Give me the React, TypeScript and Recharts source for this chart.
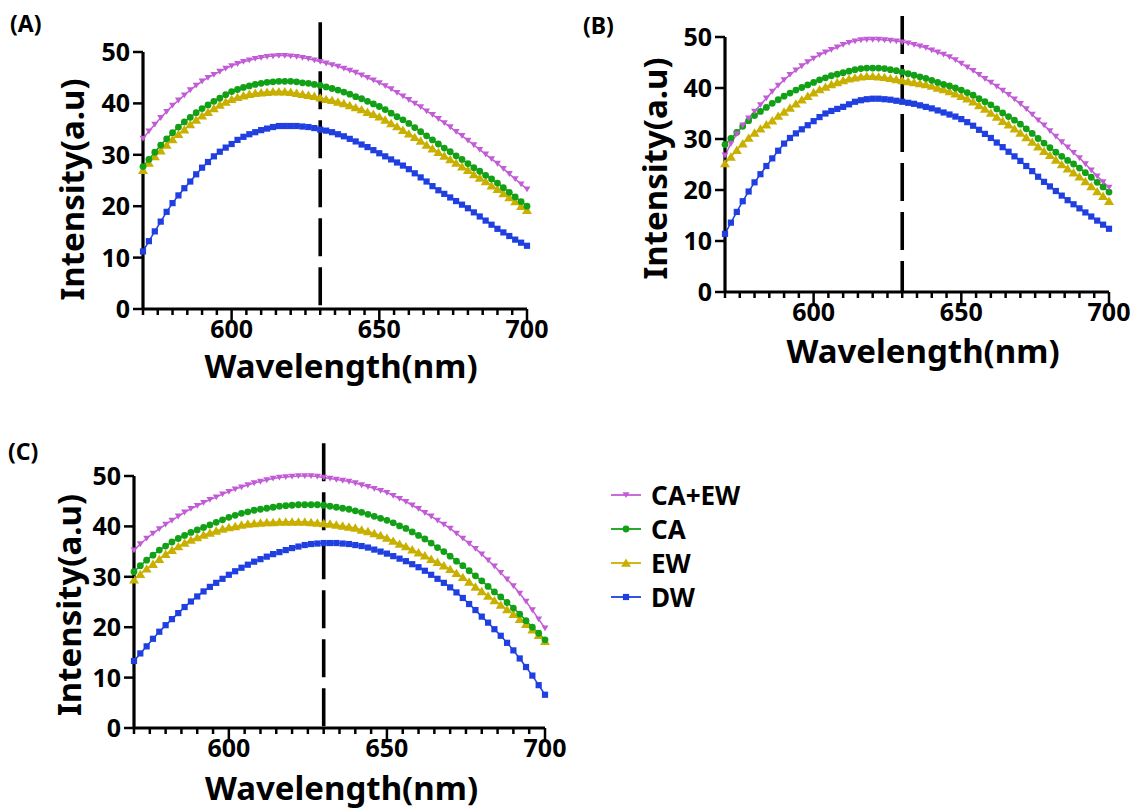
import { Legend, Line, LineChart, ReferenceLine, XAxis, YAxis } from 'recharts'

// wavelength grid (nm)
const wavelengths = [
  570, 572, 574, 576, 578, 580, 582, 584, 586, 588,
  590, 592, 594, 596, 598, 600, 602, 604, 606, 608,
  610, 612, 614, 616, 618, 620, 622, 624, 626, 628,
  630, 632, 634, 636, 638, 640, 642, 644, 646, 648,
  650, 652, 654, 656, 658, 660, 662, 664, 666, 668,
  670, 672, 674, 676, 678, 680, 682, 684, 686, 688,
  690, 692, 694, 696, 698, 700,
]

// panel (A)
const aCaEw = [
  33.2, 34.6, 35.9, 37.2, 38.4, 39.6, 40.6, 41.6, 42.6, 43.5,
  44.3, 45.0, 45.6, 46.2, 46.8, 47.3, 47.7, 48.1, 48.4, 48.7,
  48.9, 49.1, 49.2, 49.3, 49.3, 49.2, 49.1, 48.9, 48.7, 48.4,
  48.1, 47.8, 47.5, 47.2, 46.8, 46.4, 46.0, 45.5, 45.0, 44.5,
  44.0, 43.4, 42.8, 42.1, 41.4, 40.7, 40.0, 39.3, 38.5, 37.8,
  37.0, 36.2, 35.4, 34.5, 33.7, 32.8, 31.9, 31.0, 30.1, 29.2,
  28.3, 27.3, 26.3, 25.3, 24.3, 23.3,
]
const aCa = [
  27.7, 29.1, 30.5, 31.9, 33.1, 34.3, 35.4, 36.4, 37.3, 38.2,
  39.0, 39.7, 40.4, 41.0, 41.7, 42.3, 42.7, 43.1, 43.4, 43.7,
  43.9, 44.1, 44.2, 44.3, 44.3, 44.3, 44.2, 44.0, 43.9, 43.7,
  43.5, 43.2, 42.9, 42.6, 42.2, 41.8, 41.3, 40.9, 40.4, 39.9,
  39.4, 38.8, 38.1, 37.4, 36.8, 36.1, 35.3, 34.5, 33.7, 32.9,
  32.1, 31.3, 30.6, 29.8, 29.1, 28.3, 27.5, 26.8, 26.0, 25.3,
  24.5, 23.6, 22.7, 21.8, 20.9, 20.0,
]
const aEw = [
  27.0, 28.4, 29.7, 30.8, 31.9, 33.0, 34.0, 34.9, 35.9, 36.8,
  37.6, 38.3, 39.0, 39.7, 40.3, 40.8, 41.2, 41.5, 41.8, 42.0,
  42.1, 42.2, 42.3, 42.3, 42.3, 42.2, 42.0, 41.8, 41.6, 41.4,
  41.1, 40.8, 40.6, 40.3, 40.0, 39.6, 39.2, 38.8, 38.3, 37.9,
  37.4, 36.8, 36.1, 35.5, 34.8, 34.1, 33.4, 32.7, 31.9, 31.2,
  30.5, 29.8, 29.1, 28.4, 27.7, 27.0, 26.2, 25.5, 24.8, 24.0,
  23.3, 22.5, 21.7, 20.9, 20.0, 19.2,
]
const aDw = [
  11.2, 13.2, 15.1, 17.0, 18.9, 20.6, 22.1, 23.5, 24.8, 26.2,
  27.5, 28.6, 29.7, 30.6, 31.4, 32.1, 32.9, 33.5, 34.0, 34.4,
  34.8, 35.1, 35.4, 35.6, 35.6, 35.6, 35.6, 35.5, 35.4, 35.2,
  34.9, 34.7, 34.4, 34.0, 33.6, 33.1, 32.6, 32.0, 31.5, 30.9,
  30.3, 29.7, 29.1, 28.5, 27.9, 27.2, 26.4, 25.6, 24.8, 23.9,
  23.1, 22.4, 21.7, 21.0, 20.3, 19.6, 18.8, 18.0, 17.2, 16.4,
  15.6, 14.9, 14.2, 13.5, 12.9, 12.3,
]

// panel (B)
const bCaEw = [
  26.8, 29.1, 31.0, 32.7, 34.1, 35.4, 36.7, 38.0, 39.3, 40.5,
  41.6, 42.6, 43.5, 44.3, 45.1, 45.8, 46.5, 47.0, 47.5, 48.0,
  48.5, 48.9, 49.2, 49.4, 49.5, 49.5, 49.5, 49.4, 49.3, 49.2,
  49.0, 48.8, 48.5, 48.2, 47.9, 47.4, 47.0, 46.6, 46.1, 45.5,
  44.8, 44.1, 43.4, 42.6, 41.8, 41.1, 40.3, 39.5, 38.7, 37.8,
  36.9, 35.9, 34.8, 33.7, 32.7, 31.6, 30.5, 29.4, 28.4, 27.3,
  26.3, 25.1, 23.9, 22.7, 21.6, 20.5,
]
const bCa = [
  28.9, 30.1, 31.3, 32.5, 33.6, 34.6, 35.4, 36.2, 37.0, 37.7,
  38.4, 39.0, 39.6, 40.1, 40.6, 41.1, 41.6, 42.0, 42.4, 42.7,
  43.0, 43.3, 43.6, 43.8, 43.9, 43.9, 43.9, 43.8, 43.6, 43.4,
  43.1, 42.8, 42.5, 42.2, 41.9, 41.5, 41.1, 40.7, 40.4, 40.0,
  39.6, 39.1, 38.6, 37.9, 37.3, 36.7, 35.9, 35.1, 34.4, 33.7,
  32.9, 32.0, 31.1, 30.1, 29.2, 28.3, 27.4, 26.6, 25.8, 25.1,
  24.3, 23.4, 22.5, 21.5, 20.6, 19.6,
]
const bEw = [
  25.2, 26.5, 27.8, 29.1, 30.2, 31.2, 32.0, 32.8, 33.6, 34.5,
  35.3, 36.1, 36.9, 37.7, 38.4, 39.1, 39.7, 40.2, 40.7, 41.1,
  41.5, 41.8, 42.0, 42.2, 42.3, 42.3, 42.2, 42.1, 41.9, 41.7,
  41.5, 41.3, 41.1, 40.9, 40.7, 40.4, 40.0, 39.7, 39.3, 38.9,
  38.4, 37.9, 37.3, 36.6, 35.9, 35.1, 34.3, 33.5, 32.8, 32.0,
  31.2, 30.3, 29.4, 28.5, 27.6, 26.8, 25.9, 25.0, 24.2, 23.4,
  22.6, 21.7, 20.7, 19.7, 18.8, 17.8,
]
const bDw = [
  11.4, 13.6, 15.7, 17.8, 19.7, 21.5, 23.1, 24.7, 26.2, 27.7,
  29.1, 30.2, 31.1, 31.9, 32.7, 33.5, 34.3, 35.0, 35.5, 35.9,
  36.3, 36.8, 37.3, 37.6, 37.8, 37.9, 37.9, 37.8, 37.7, 37.5,
  37.3, 37.1, 36.9, 36.6, 36.3, 36.0, 35.6, 35.2, 34.8, 34.4,
  33.9, 33.3, 32.6, 31.8, 31.0, 30.2, 29.3, 28.4, 27.5, 26.6,
  25.7, 24.7, 23.7, 22.6, 21.6, 20.7, 19.8, 18.9, 18.0, 17.2,
  16.4, 15.6, 14.8, 14.0, 13.2, 12.4,
]

// panel (C)
const cCaEw = [
  35.3, 36.5, 37.6, 38.6, 39.5, 40.4, 41.2, 42.0, 42.8, 43.5,
  44.1, 44.7, 45.3, 45.8, 46.4, 46.9, 47.4, 47.8, 48.2, 48.6,
  48.9, 49.2, 49.5, 49.7, 49.8, 49.9, 50.0, 50.0, 50.0, 49.9,
  49.7, 49.5, 49.3, 49.1, 48.9, 48.6, 48.2, 47.9, 47.5, 47.1,
  46.7, 46.1, 45.5, 44.9, 44.2, 43.5, 42.7, 42.0, 41.2, 40.4,
  39.6, 38.6, 37.6, 36.6, 35.6, 34.5, 33.3, 32.1, 30.8, 29.5,
  28.2, 26.7, 25.1, 23.4, 21.6, 19.8,
]
const cCa = [
  31.0, 32.2, 33.3, 34.3, 35.3, 36.1, 36.9, 37.6, 38.2, 38.8,
  39.3, 39.8, 40.3, 40.8, 41.3, 41.8, 42.2, 42.6, 42.9, 43.2,
  43.4, 43.6, 43.8, 44.0, 44.1, 44.2, 44.3, 44.3, 44.3, 44.3,
  44.2, 44.0, 43.8, 43.6, 43.4, 43.1, 42.8, 42.4, 42.0, 41.6,
  41.2, 40.7, 40.1, 39.6, 38.9, 38.2, 37.5, 36.7, 35.8, 35.0,
  34.1, 33.1, 32.2, 31.2, 30.2, 29.2, 28.1, 27.0, 26.0, 24.9,
  23.8, 22.6, 21.3, 20.0, 18.8, 17.5,
]
const cEw = [
  29.4, 30.5, 31.6, 32.5, 33.5, 34.5, 35.3, 36.0, 36.7, 37.3,
  37.8, 38.3, 38.7, 39.1, 39.5, 39.8, 40.0, 40.3, 40.5, 40.6,
  40.7, 40.8, 40.8, 40.9, 40.9, 40.9, 40.9, 40.9, 40.8, 40.7,
  40.6, 40.5, 40.3, 40.1, 39.9, 39.7, 39.3, 39.0, 38.6, 38.2,
  37.7, 37.1, 36.5, 36.0, 35.4, 34.8, 34.2, 33.5, 32.9, 32.2,
  31.5, 30.7, 29.9, 29.0, 28.0, 27.1, 26.2, 25.3, 24.4, 23.5,
  22.6, 21.6, 20.6, 19.5, 18.4, 17.2,
]
const cDw = [
  13.3, 14.8, 16.2, 17.7, 19.1, 20.4, 21.6, 22.8, 24.0, 25.1,
  26.1, 27.1, 28.0, 28.8, 29.6, 30.4, 31.1, 31.8, 32.4, 33.0,
  33.5, 34.0, 34.5, 34.9, 35.3, 35.7, 36.0, 36.3, 36.5, 36.6,
  36.7, 36.7, 36.7, 36.6, 36.5, 36.3, 36.1, 35.8, 35.4, 35.0,
  34.6, 34.1, 33.6, 33.1, 32.5, 31.9, 31.2, 30.4, 29.6, 28.8,
  27.9, 26.9, 25.8, 24.6, 23.4, 22.1, 20.9, 19.6, 18.3, 16.9,
  15.4, 13.8, 12.1, 10.4, 8.5, 6.6,
]

const xTicks = [
  570, 575, 580, 585, 590, 595, 600, 605, 610, 615, 620, 625, 630, 635,
  640, 645, 650, 655, 660, 665, 670, 675, 680, 685, 690, 695, 700,
]
const xLabelTicks = [600, 650, 700]
const yTicks = [0, 10, 20, 30, 40, 50]
const markerLine = 630

const FONT = "'Noto Sans', 'Open Sans', sans-serif"

type Kind = 'triDown' | 'circle' | 'triUp' | 'square'
const series: { key: string; name: string; color: string; kind: Kind }[] = [
  { key: 'caew', name: 'CA+EW', color: '#c25cd6', kind: 'triDown' },
  { key: 'ca', name: 'CA', color: '#12a016', kind: 'circle' },
  { key: 'ew', name: 'EW', color: '#c9b000', kind: 'triUp' },
  { key: 'dw', name: 'DW', color: '#1f3fe0', kind: 'square' },
]

function marker(kind: Kind, cx: number, cy: number, color: string, key?: string) {
  if (cx == null || cy == null) return <g key={key} />
  switch (kind) {
    case 'triDown':
      return <path key={key} d={`M${cx - 3.5},${cy - 2.7}L${cx + 3.5},${cy - 2.7}L${cx},${cy + 3.1}Z`} fill={color} />
    case 'circle':
      return <circle key={key} cx={cx} cy={cy} r={3.4} fill={color} />
    case 'triUp':
      return <path key={key} d={`M${cx - 5},${cy + 3.8}L${cx + 5},${cy + 3.8}L${cx},${cy - 4.6}Z`} fill={color} />
    default:
      return <rect key={key} x={cx - 3.1} y={cy - 3.1} width={6.2} height={6.2} fill={color} />
  }
}

function build(caew: number[], ca: number[], ew: number[], dw: number[]) {
  return wavelengths.map((w, i) => ({ w, caew: caew[i], ca: ca[i], ew: ew[i], dw: dw[i] }))
}

const XTick = (p: any) => {
  const { x, y, payload } = p
  const major = xLabelTicks.includes(payload.value)
  return (
    <g>
      <line x1={x} x2={x} y1={y} y2={y + (major ? 11 : 6)} stroke="#000" strokeWidth={2.5} />
      {major && (
        <text x={x} y={y + 29} textAnchor="middle" fontFamily={FONT} fontWeight={700} fontSize={25} fill="#000">
          {payload.value}
        </text>
      )}
    </g>
  )
}

const YTick = (p: any) => {
  const { x, y, payload } = p
  return (
    <g>
      <line x1={x - 10} x2={x} y1={y} y2={y} stroke="#000" strokeWidth={2.5} />
      <text x={x - 13} y={y + 9} textAnchor="end" fontFamily={FONT} fontWeight={700} fontSize={25} fill="#000">
        {payload.value}
      </text>
    </g>
  )
}

const xTitle = (dy: number, dx: number) => (p: any) => {
  const vb = p.viewBox
  return (
    <text x={vb.x + vb.width / 2 + dx} y={vb.y + dy} textAnchor="middle" fontFamily={FONT} fontWeight={700} fontSize={33} fill="#000">
      Wavelength(nm)
    </text>
  )
}

const yTitle = (dx: number, dy: number) => (p: any) => {
  const vb = p.viewBox
  const cx = vb.x + vb.width - dx
  const cy = vb.y + vb.height / 2 + dy
  return (
    <text x={cx} y={cy} transform={`rotate(-90 ${cx} ${cy})`} textAnchor="middle" fontFamily={FONT} fontWeight={700} fontSize={33} fill="#000">
      Intensity(a.u)
    </text>
  )
}

function LegendBox({ payload }: any) {
  const items = series.filter((s) => (payload || []).some((e: any) => e.dataKey === s.key))
  return (
    <div style={{ fontFamily: FONT, fontWeight: 700, fontSize: 26 }}>
      {items.map((s) => (
        <div key={s.key} style={{ display: 'flex', alignItems: 'center', height: 34 }}>
          <svg width={30} height={12} style={{ marginRight: 10 }}>
            <line x1={0} x2={30} y1={6} y2={6} stroke={s.color} strokeWidth={1.8} />
            {marker(s.kind, 15, 6, s.color)}
          </svg>
          <span style={{ lineHeight: '34px' }}>{s.name}</span>
        </div>
      ))}
    </div>
  )
}

interface PanelProps {
  data: any[]
  left: number
  top: number
  width: number
  height: number
  marginTop: number
  marginRight: number
  yAxisWidth: number
  xAxisHeight: number
  refTop: number
  xTitleDy: number
  xTitleDx: number
  yTitleDx: number
  yTitleDy: number
  legend?: boolean
}

function Panel(p: PanelProps) {
  const drawOrder = [...series].reverse()
  return (
    <div style={{ position: 'absolute', left: p.left, top: p.top }}>
      <LineChart width={p.width} height={p.height} data={p.data} margin={{ top: p.marginTop, right: p.marginRight, bottom: 0, left: 0 }}>
        <XAxis
          dataKey="w"
          type="number"
          domain={[570, 700]}
          ticks={xTicks}
          interval={0}
          height={p.xAxisHeight}
          tick={XTick}
          tickLine={false}
          tickSize={0}
          tickMargin={0}
          axisLine={{ stroke: '#000', strokeWidth: 3.2 }}
          label={xTitle(p.xTitleDy, p.xTitleDx)}
        />
        <YAxis
          type="number"
          domain={[0, 50]}
          ticks={yTicks}
          interval={0}
          width={p.yAxisWidth}
          tick={YTick}
          tickLine={false}
          tickSize={0}
          tickMargin={0}
          axisLine={{ stroke: '#000', strokeWidth: 3.2 }}
          label={yTitle(p.yTitleDx, p.yTitleDy)}
        />
        {drawOrder.map((s) => (
          <Line
            key={s.key}
            dataKey={s.key}
            name={s.name}
            type="linear"
            stroke={s.color}
            strokeWidth={1.5}
            dot={(d: any) => marker(s.kind, d.cx, d.cy, s.color, `${s.key}-${d.index}`)}
            activeDot={false}
            isAnimationActive={false}
          />
        ))}
        <ReferenceLine
          segment={[{ x: markerLine, y: p.refTop }, { x: markerLine, y: 0 }]}
          stroke="#000"
          strokeWidth={3.6}
          strokeDasharray="38 11"
          ifOverflow="visible"
        />
        {p.legend && (
          <Legend
            layout="vertical"
            align="center"
            verticalAlign="middle"
            wrapperStyle={{ left: 611, top: 58, width: 170 }}
            content={(lp: any) => <LegendBox payload={lp.payload} />}
          />
        )}
      </LineChart>
    </div>
  )
}

export default function App() {
  return (
    <div style={{ position: 'absolute', left: 0, top: 0, width: 1131, height: 812, background: '#fff' }}>
      <Panel data={build(aCaEw, aCa, aEw, aDw)} left={0} top={0} width={560} height={400} marginTop={52} marginRight={33}
        yAxisWidth={143} xAxisHeight={91} refTop={55.8} xTitleDy={69} xTitleDx={6} yTitleDx={59} yTitleDy={9} />
      <Panel data={build(bCaEw, bCa, bEw, bDw)} left={580} top={0} width={551} height={390} marginTop={37} marginRight={22}
        yAxisWidth={145} xAxisHeight={98} refTop={54.1} xTitleDy={71} xTitleDx={6} yTitleDx={58} yTitleDy={4} />
      <Panel data={build(cCaEw, cCa, cEw, cDw)} left={0} top={420} width={800} height={392} marginTop={56} marginRight={255}
        yAxisWidth={134} xAxisHeight={84} refTop={56.5} xTitleDy={72} xTitleDx={2} yTitleDx={53} yTitleDy={3} legend />
      <svg width={1131} height={812} style={{ position: 'absolute', left: 0, top: 0, pointerEvents: 'none' }}>
        <text x={10} y={32} fontFamily={FONT} fontWeight={700} fontSize={23}>(A)</text>
        <text x={583} y={34} fontFamily={FONT} fontWeight={700} fontSize={23}>(B)</text>
        <text x={8} y={460} fontFamily={FONT} fontWeight={700} fontSize={23}>(C)</text>
      </svg>
    </div>
  )
}
